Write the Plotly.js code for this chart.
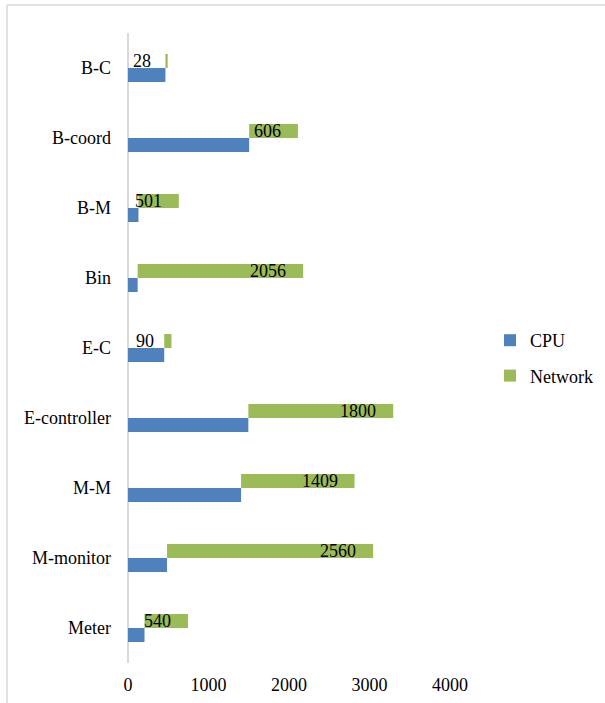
<!DOCTYPE html>
<html>
<head>
<meta charset="utf-8">
<script src="https://cdn.plot.ly/plotly-3.0.1.min.js"></script>
<style>
  html, body { margin: 0; padding: 0; background: #fff; }
  #chart { width: 605px; height: 703px; }
</style>
</head>
<body>
<div id="chart"></div>
<script>
// ---- data ----
var categories = ["B-C", "B-coord", "B-M", "Bin", "E-C", "E-controller", "M-M", "M-monitor", "Meter"];
var cpuValues = [465, 1505, 130, 120, 450, 1495, 1405, 485, 205];
var networkValues = [28, 606, 501, 2056, 90, 1800, 1409, 2560, 540];
var xTicks = [0, 1000, 2000, 3000, 4000];

var FONT = "Liberation Serif, Times New Roman, serif";

var traces = [
  {
    type: "bar", orientation: "h", name: "CPU",
    y: categories, x: cpuValues,
    marker: { color: "#4F81BD", line: { width: 0 } },
    legendgroup: "cpu", hoverinfo: "skip"
  },
  {
    type: "bar", orientation: "h", name: "Network",
    y: categories, x: networkValues, base: cpuValues,
    marker: { color: "#9BBB59", line: { width: 0 } },
    legendgroup: "net", hoverinfo: "skip"
  }
];

var annotations = categories.map(function (c, i) {
  return {
    x: cpuValues[i] + networkValues[i], y: c,
    xref: "x", yref: "y",
    text: String(networkValues[i]),
    showarrow: false, xanchor: "right", yanchor: "middle",
    xshift: -15, yshift: 7,
    font: { family: FONT, size: 18, color: "#000" }
  };
});

var W = 605, H = 703;
var ML = 128, MR = 155, MT = 33, MB = 40;
var PW = W - ML - MR; // plot width in px
var PH = H - MT - MB; // plot height in px

var layout = {
  width: W, height: H,
  margin: { l: ML, r: MR, t: MT, b: MB, pad: 0, autoexpand: false },
  paper_bgcolor: "#fff", plot_bgcolor: "#fff",
  font: { family: FONT, size: 18, color: "#000" },
  barmode: "group", bargap: 0.6, bargroupgap: 0,
  showlegend: true,
  legend: {
    xref: "container", yref: "container",
    x: 490 / W, xanchor: "left", y: 1 - 322 / H, yanchor: "top",
    font: { family: FONT, size: 18, color: "#000" },
    tracegroupgap: 9, bgcolor: "rgba(0,0,0,0)"
  },
  xaxis: {
    range: [0, 4000], tickvals: xTicks, ticktext: xTicks.map(String),
    showgrid: false, zeroline: true, zerolinecolor: "#d9d9d9", zerolinewidth: 1.5,
    showline: false, ticks: "", ticklabelstandoff: 9,
    tickfont: { family: FONT, size: 18, color: "#000" }, fixedrange: true
  },
  yaxis: {
    type: "category", categoryorder: "array", categoryarray: categories.slice().reverse(),
    showgrid: false, zeroline: false, showline: false, ticks: "",
    ticklabelstandoff: 16,
    tickfont: { family: FONT, size: 18, color: "#000" }, fixedrange: true
  },
  annotations: annotations,
  shapes: [
    { type: "line", xref: "paper", yref: "paper", x0: -121 / PW, x1: 500 / PW, y0: (PH + 28) / PH, y1: (PH + 28) / PH,
      line: { color: "#d9d9d9", width: 1.5 } },
    { type: "line", xref: "paper", yref: "paper", x0: -121 / PW, x1: -121 / PW, y0: (PH + 28) / PH, y1: -45 / PH,
      line: { color: "#d9d9d9", width: 1.5 } }
  ]
};

Plotly.newPlot("chart", traces, layout, { staticPlot: true, displayModeBar: false });
</script>
</body>
</html>
